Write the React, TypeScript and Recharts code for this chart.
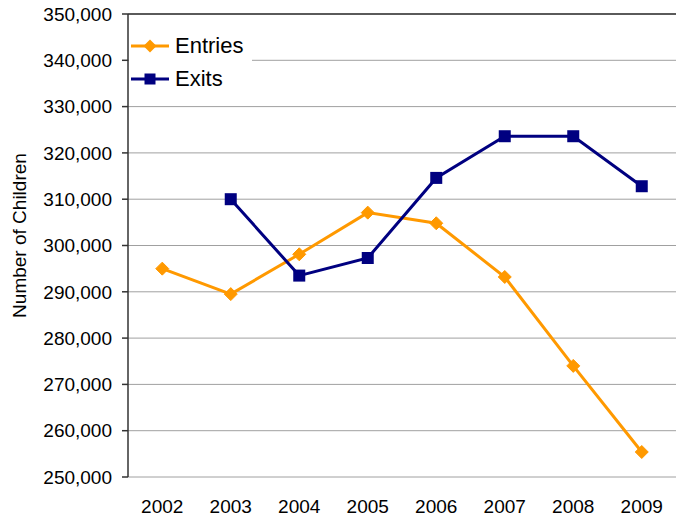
import React from 'react';
import { LineChart, Line, XAxis, YAxis, CartesianGrid, Legend, ReferenceLine } from 'recharts';

const years = ['2002', '2003', '2004', '2005', '2006', '2007', '2008', '2009'];
const entries = [295000, 289500, 298100, 307100, 304800, 293200, 274000, 255400];
const exits: (number | null)[] = [null, 310000, 293500, 297300, 314600, 323600, 323600, 312800];
const yTicks = [250000, 260000, 270000, 280000, 290000, 300000, 310000, 320000, 330000, 340000, 350000];

const ORANGE = '#FF9900';
const NAVY = '#000080';
const FONT = '"Liberation Sans", Arial, sans-serif';

const data = years.map((year, i) => ({ year, pos: i + 0.5, entries: entries[i], exits: exits[i] }));
const boundaryTicks = years.map((_, i) => i).concat([years.length]);
const centerTicks = years.map((_, i) => i + 0.5);

const Diamond = (props: any) => {
  const { cx, cy, value } = props;
  if (cx == null || cy == null || value == null) return <g key={props.key} />;
  const r = 6.5;
  return (
    <polygon
      key={props.key}
      points={`${cx},${cy - r} ${cx + r},${cy} ${cx},${cy + r} ${cx - r},${cy}`}
      fill={ORANGE}
      stroke={ORANGE}
    />
  );
};

const Square = (props: any) => {
  const { cx, cy, value } = props;
  if (cx == null || cy == null || value == null) return <g key={props.key} />;
  const s = 12;
  return <rect key={props.key} x={cx - s / 2} y={cy - s / 2} width={s} height={s} fill={NAVY} />;
};

const renderLegend = (props: any) => {
  const payload = props.payload || [];
  return (
    <div style={{ background: '#fff', width: 123, height: 66, fontFamily: FONT, fontSize: 22, color: '#000' }}>
      {payload.map((p: any) => (
        <div key={p.value} style={{ display: 'flex', alignItems: 'center', height: 33 }}>
          <svg width={38} height={16} style={{ marginLeft: 2, marginRight: 6, display: 'block' }}>
            <line x1={0} y1={8} x2={38} y2={8} stroke={p.color} strokeWidth={3} />
            {p.dataKey === 'entries' ? (
              <polygon points="19,1.5 25.5,8 19,14.5 12.5,8" fill={p.color} />
            ) : (
              <rect x={13.5} y={2.5} width={11} height={11} fill={p.color} />
            )}
          </svg>
          <span style={{ lineHeight: '33px' }}>{p.value}</span>
        </div>
      ))}
    </div>
  );
};

const YLabel = (props: any) => {
  const vb = props.viewBox || { x: 0, y: 0, height: 0 };
  const x = 26;
  const y = vb.y + vb.height / 2 - 10;
  return (
    <text
      x={x}
      y={y}
      textAnchor="middle"
      transform={`rotate(-90, ${x}, ${y})`}
      fontFamily={FONT}
      fontSize={19}
      fill="#000"
    >
      Number of Children
    </text>
  );
};

export default function App() {
  return (
    <div style={{ position: 'absolute', left: 0, top: 0, width: 676, height: 520, background: '#fff', overflow: 'hidden' }}>
      <LineChart width={676} height={520} data={data} margin={{ top: 14, right: 0, left: 0, bottom: 0 }}>
        <CartesianGrid vertical={false} stroke="#a0a0a0" strokeWidth={1} xAxisId="pos" />
        <XAxis
          xAxisId="pos"
          dataKey="pos"
          type="number"
          domain={[0, 8]}
          ticks={boundaryTicks}
          tickFormatter={() => ''}
          tickSize={6}
          height={0}
          axisLine={{ stroke: '#333', strokeWidth: 1.5 }}
          tickLine={{ stroke: '#333', strokeWidth: 1.5 }}
          allowDataOverflow
        />
        <XAxis
          xAxisId="label"
          dataKey="pos"
          type="number"
          domain={[0, 8]}
          ticks={centerTicks}
          tickFormatter={(v: number) => years[Math.floor(v)]}
          axisLine={false}
          tickLine={false}
          tickSize={0}
          tickMargin={23}
          height={43}
          tick={{ fontFamily: FONT, fontSize: 19, fill: '#000' }}
          allowDataOverflow
        />
        <YAxis
          type="number"
          domain={[250000, 350000]}
          ticks={yTicks}
          width={128}
          tickSize={6}
          tickMargin={10}
          tickFormatter={(v: number) => v.toLocaleString('en-US')}
          tick={{ fontFamily: FONT, fontSize: 19, fill: '#000' }}
          axisLine={{ stroke: '#333', strokeWidth: 1.5 }}
          tickLine={{ stroke: '#333', strokeWidth: 1.5 }}
          label={<YLabel />}
          allowDataOverflow
        />
        <ReferenceLine xAxisId="pos" y={350000} stroke="#333" strokeWidth={1.5} />
        <Legend
          layout="vertical"
          align="center"
          verticalAlign="middle"
          wrapperStyle={{ left: 129, top: 29, width: 123, height: 66 }}
          content={renderLegend}
        />
        <Line
          xAxisId="pos"
          type="linear"
          dataKey="entries"
          name="Entries"
          stroke={ORANGE}
          strokeWidth={3}
          dot={Diamond}
          activeDot={false}
          isAnimationActive={false}
        />
        <Line
          xAxisId="pos"
          type="linear"
          dataKey="exits"
          name="Exits"
          stroke={NAVY}
          strokeWidth={3}
          dot={Square}
          activeDot={false}
          isAnimationActive={false}
        />
      </LineChart>
    </div>
  );
}
